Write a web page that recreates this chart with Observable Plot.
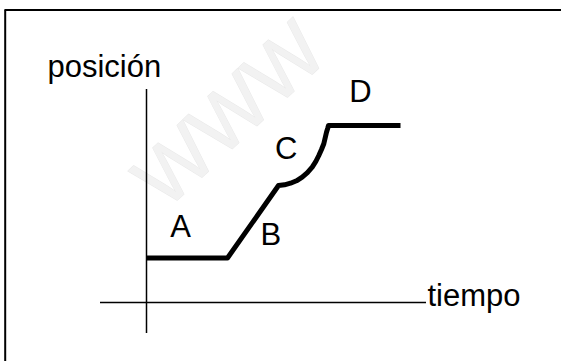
<!DOCTYPE html>
<html>
<head>
<meta charset="utf-8">
<script src="https://cdn.jsdelivr.net/npm/d3@7"></script>
<script src="https://cdn.jsdelivr.net/npm/@observablehq/plot@0.6"></script>
<style>
  html, body { margin: 0; padding: 0; background: #fff; }
  #chart svg { display: block; }
</style>
</head>
<body>
<div id="chart"></div>
<script>
// Position–time curve (time t, position p)
const curveT = [0, 8.1, 13.2, 13.8, 14.4, 15.0, 15.57, 16.09, 16.57, 16.93, 17.23, 17.5, 17.73, 18.0, 18.13, 18.2, 25.4];
const curveP = [4.45, 4.45, 11.7, 11.77, 11.93, 12.17, 12.53, 12.98, 13.53, 14.1, 14.7, 15.3, 15.87, 17.03, 17.45, 17.7, 17.7];

// Segment labels
const segLabels = ["A", "B", "C", "D"];
const segT = [3.4, 12.43, 13.98, 21.4];
const segP = [6.6, 5.8, 14.35, 20.1];

// Axis extents
const timeAxisT = [-4.6, 28.0];
const posAxisP = [-3.1, 21.3];

// Axis titles
const axisTitles = ["posición", "tiempo"];
const axisTitleT = [-9.9, 28.1];
const axisTitleP = [22.6, -0.3];

const curve = curveT.map((t, i) => ({t, p: curveP[i]}));
const labels = segLabels.map((s, i) => ({s, t: segT[i], p: segP[i]}));
const titles = axisTitles.map((s, i) => ({s, t: axisTitleT[i], p: axisTitleP[i]}));

const font = "'Liberation Sans', Arial, Helvetica, sans-serif";

const chart = Plot.plot({
  width: 561,
  height: 361,
  margin: 0,
  style: {fontFamily: font, background: "#fff"},
  x: {domain: [-14.6, 41.5], range: [0, 561], axis: null},
  y: {domain: [-5.9, 30.2], range: [361, 0], axis: null},
  marks: [
    // faint watermark
    Plot.text(["WWW"], {x: () => 8.4, y: () => 18.7, text: d => d, rotate: -43,
      fontSize: 80, fill: "#f2f2f2", stroke: "#e9e9e9", strokeWidth: 1,
      textAnchor: "middle", lineAnchor: "middle", fontFamily: font}),
    // frame (top and left edges visible)
    Plot.ruleY([29.25], {x1: -14.13, x2: 60, stroke: "#000", strokeWidth: 2}),
    Plot.ruleX([-14.13], {y1: 29.25, y2: -10, stroke: "#000", strokeWidth: 2}),
    // axes
    Plot.ruleY([0], {x1: timeAxisT[0], x2: timeAxisT[1], stroke: "#000", strokeWidth: 1.5}),
    Plot.ruleX([0], {y1: posAxisP[0], y2: posAxisP[1], stroke: "#000", strokeWidth: 1.5}),
    // curve
    Plot.line(curve, {x: "t", y: "p", stroke: "#000", strokeWidth: 5,
      strokeLinejoin: "round", strokeLinecap: "butt", curve: "linear"}),
    // labels
    Plot.text(labels, {x: "t", y: "p", text: "s", fontSize: 31, fill: "#000",
      textAnchor: "middle", lineAnchor: "bottom", fontFamily: font}),
    Plot.text(titles, {x: "t", y: "p", text: "s", fontSize: 31, fill: "#000",
      textAnchor: "start", lineAnchor: "bottom", fontFamily: font})
  ]
});

document.getElementById("chart").appendChild(chart);
</script>
</body>
</html>
